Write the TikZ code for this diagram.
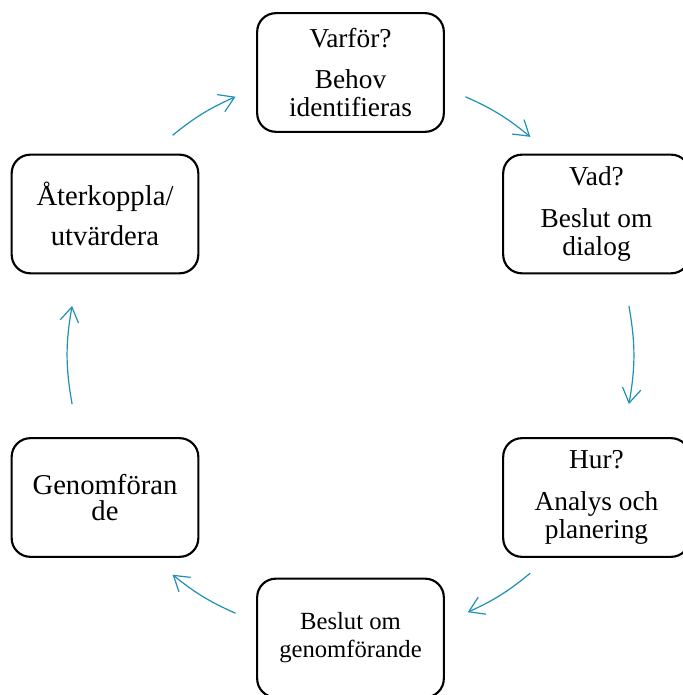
\documentclass[tikz,border=0pt]{standalone}
\usepackage{fontspec}
\setmainfont{Liberation Serif}
\usetikzlibrary{arrows.meta}
\definecolor{cycleblue}{RGB}{30,144,180}

\begin{document}
\begin{tikzpicture}[x=0.75pt,y=0.75pt,
	cyclebox/.style={draw,line width=1.6pt,rounded corners=14pt,minimum width=140pt,minimum height=89pt,align=center,inner sep=0pt},
	>={Straight Barb[length=11pt,width=14pt]},
	link/.style={cycleblue,line width=0.9pt}]
	\useasboundingbox (-350.5,-340) rectangle (331.5,355);

	\node[cyclebox,font=\fontsize{20.5}{21}\selectfont] (why) at (0,282.5) {Varför?\\[10pt]Behov\\identifieras};
	\node[cyclebox,font=\fontsize{20.5}{21}\selectfont] (what) at (246,141) {Vad?\\[10pt]Beslut om\\dialog};
	\node[cyclebox,font=\fontsize{20.5}{21}\selectfont] (how) at (246,-142.5) {Hur?\\[10pt]Analys och\\planering};
	\node[cyclebox,font=\fontsize{18.5}{21}\selectfont] (decide) at (0,-283) {Beslut om\\genomförande};
	\node[cyclebox,font=\fontsize{21.5}{20}\selectfont] (doit) at (-245.5,-142.5) {Genomföran\\de};
	\node[cyclebox,font=\fontsize{21.5}{30}\selectfont] (feedback) at (-245.5,141) {Återkoppla/\\utvärdera};

	% arrow ends on the ring
	\coordinate (why-out) at (66:282.7);
	\coordinate (what-in) at (50.5:282.7);
	\coordinate (what-out) at (10:282.7);
	\coordinate (how-in) at (-10:282.7);
	\coordinate (how-out) at (-50.5:282.7);
	\coordinate (decide-in) at (-65.5:282.7);
	\coordinate (decide-out) at (-114:282.7);
	\coordinate (doit-in) at (-129:282.7);
	\coordinate (doit-out) at (190:282.7);
	\coordinate (feedback-in) at (170:282.7);
	\coordinate (feedback-out) at (129:282.7);
	\coordinate (why-in) at (114:282.7);

	\draw[->,link] (why-out) to[bend left=7.75] (what-in);
	\draw[->,link] (what-out) to[bend left=10] (how-in);
	\draw[->,link] (how-out) to[bend left=7.5] (decide-in);
	\draw[->,link] (decide-out) to[bend left=7.5] (doit-in);
	\draw[->,link] (doit-out) to[bend left=10] (feedback-in);
	\draw[->,link] (feedback-out) to[bend left=7.5] (why-in);
\end{tikzpicture}
\end{document}
